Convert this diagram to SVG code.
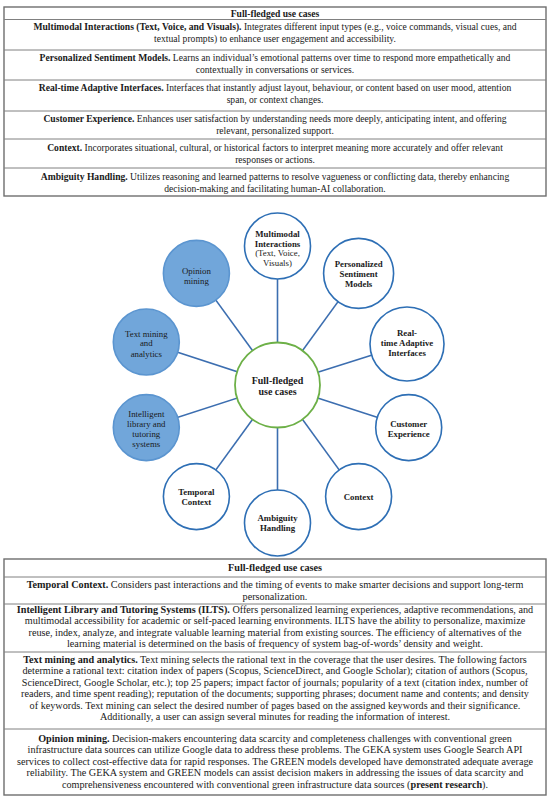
<svg xmlns="http://www.w3.org/2000/svg" width="550" height="799" viewBox="0 0 550 799">
<style>
.t{font-family:"Liberation Serif",serif;font-size:9.6px;fill:#1a1a1a;text-anchor:middle}
.t2{font-family:"Liberation Serif",serif;font-size:10.2px;fill:#1a1a1a;text-anchor:middle}
.b{font-weight:bold}
.cell{fill:none;stroke:#808080;stroke-width:1}
.frame{fill:none;stroke:#6e6e6e;stroke-width:1.4}
.node{fill:#ffffff;stroke:#2e6fb5;stroke-width:1.6}
.filled{fill:#71a6da;stroke:#5b95d0;stroke-width:1.6}
.hub{fill:#ffffff;stroke:#6db047;stroke-width:1.8}
.conn{stroke:#3c6eb0;stroke-width:1.6}
.nl{font-family:"Liberation Serif",serif;font-size:8.8px;fill:#1a1a1a;text-anchor:middle}
.hl{font-family:"Liberation Serif",serif;font-size:10px;font-weight:bold;fill:#1a1a1a;text-anchor:middle}
</style>
<rect width="550" height="799" fill="#ffffff"/>

<g id="table-top">
<rect class="frame" x="4" y="7" width="542" height="189"/>
<line class="cell" x1="4" y1="19.5" x2="546" y2="19.5"/>
<line class="cell" x1="4" y1="50" x2="546" y2="50"/>
<line class="cell" x1="4" y1="80" x2="546" y2="80"/>
<line class="cell" x1="4" y1="111" x2="546" y2="111"/>
<line class="cell" x1="4" y1="139" x2="546" y2="139"/>
<line class="cell" x1="4" y1="168" x2="546" y2="168"/>
<text class="t b" x="275" y="16.5">Full-fledged use cases</text>
<text class="t" x="275" y="30"><tspan class="b">Multimodal Interactions (Text, Voice, and Visuals).</tspan> Integrates different input types (e.g., voice commands, visual cues, and</text>
<text class="t" x="275" y="42">textual prompts) to enhance user engagement and accessibility.</text>
<text class="t" x="275" y="61"><tspan class="b">Personalized Sentiment Models.</tspan> Learns an individual’s emotional patterns over time to respond more empathetically and</text>
<text class="t" x="275" y="73">contextually in conversations or services.</text>
<text class="t" x="275" y="91"><tspan class="b">Real-time Adaptive Interfaces.</tspan> Interfaces that instantly adjust layout, behaviour, or content based on user mood, attention</text>
<text class="t" x="275" y="103">span, or context changes.</text>
<text class="t" x="275" y="121.5"><tspan class="b">Customer Experience.</tspan> Enhances user satisfaction by understanding needs more deeply, anticipating intent, and offering</text>
<text class="t" x="275" y="133.5">relevant, personalized support.</text>
<text class="t" x="275" y="150.5"><tspan class="b">Context.</tspan> Incorporates situational, cultural, or historical factors to interpret meaning more accurately and offer relevant</text>
<text class="t" x="275" y="162.5">responses or actions.</text>
<text class="t" x="275" y="180"><tspan class="b">Ambiguity Handling.</tspan> Utilizes reasoning and learned patterns to resolve vagueness or conflicting data, thereby enhancing</text>
<text class="t" x="275" y="192">decision-making and facilitating human-AI collaboration.</text>
</g>

<g id="connectors">
<line class="conn" x1="277.5" y1="385" x2="277.5" y2="246"/>
<line class="conn" x1="277.5" y1="385" x2="358.6" y2="273.4"/>
<line class="conn" x1="277.5" y1="385" x2="407" y2="344"/>
<line class="conn" x1="277.5" y1="385" x2="408.7" y2="427.6"/>
<line class="conn" x1="277.5" y1="385" x2="358.6" y2="496.6"/>
<line class="conn" x1="277.5" y1="385" x2="277.5" y2="523"/>
<line class="conn" x1="277.5" y1="385" x2="196.4" y2="496.6"/>
<line class="conn" x1="277.5" y1="385" x2="146.3" y2="427.6"/>
<line class="conn" x1="277.5" y1="385" x2="146.3" y2="342"/>
<line class="conn" x1="277.5" y1="385" x2="196.4" y2="273.4"/>
</g>

<g id="node-hub">
<circle class="hub" cx="277.5" cy="385" r="42.5"/>
<text class="hl" x="277.5" y="383.5">Full-fledged</text>
<text class="hl" x="277.5" y="394.5">use cases</text>
</g>
<g id="node-multimodal">
<circle class="node" cx="277.5" cy="246" r="33"/>
<text class="nl b" x="277.5" y="236.5">Multimodal</text>
<text class="nl b" x="277.5" y="246.5">Interactions</text>
<text class="nl" x="277.5" y="256">(Text, Voice,</text>
<text class="nl" x="277.5" y="265.5">Visuals)</text>
</g>
<g id="node-sentiment">
<circle class="node" cx="358.6" cy="273.4" r="35"/>
<text class="nl b" x="358.6" y="267">Personalized</text>
<text class="nl b" x="358.6" y="277">Sentiment</text>
<text class="nl b" x="358.6" y="287">Models</text>
</g>
<g id="node-adaptive">
<circle class="node" cx="407" cy="344" r="37"/>
<text class="nl b" x="407" y="336">Real-</text>
<text class="nl b" x="407" y="346">time Adaptive</text>
<text class="nl b" x="407" y="356">Interfaces</text>
</g>
<g id="node-customer">
<circle class="node" cx="408.7" cy="427.6" r="33"/>
<text class="nl b" x="408.7" y="426.5">Customer</text>
<text class="nl b" x="408.7" y="436.5">Experience</text>
</g>
<g id="node-context">
<circle class="node" cx="358.6" cy="496.6" r="33"/>
<text class="nl b" x="358.6" y="500">Context</text>
</g>
<g id="node-ambiguity">
<circle class="node" cx="277.5" cy="523" r="33"/>
<text class="nl b" x="277.5" y="521">Ambiguity</text>
<text class="nl b" x="277.5" y="530.5">Handling</text>
</g>
<g id="node-temporal">
<circle class="node" cx="196.4" cy="496.6" r="33"/>
<text class="nl b" x="196.4" y="495">Temporal</text>
<text class="nl b" x="196.4" y="505">Context</text>
</g>
<g id="node-ilts">
<circle class="filled" cx="146.3" cy="427.6" r="33"/>
<text class="nl" x="146.3" y="416.5">Intelligent</text>
<text class="nl" x="146.3" y="426.5">library and</text>
<text class="nl" x="146.3" y="436.5">tutoring</text>
<text class="nl" x="146.3" y="446.5">systems</text>
</g>
<g id="node-textmining">
<circle class="filled" cx="146.3" cy="342" r="33"/>
<text class="nl" x="146.3" y="336.5">Text mining</text>
<text class="nl" x="146.3" y="346">and</text>
<text class="nl" x="146.3" y="356.5">analytics</text>
</g>
<g id="node-opinion">
<circle class="filled" cx="196.4" cy="273.4" r="33"/>
<text class="nl" x="196.4" y="273.5">Opinion</text>
<text class="nl" x="196.4" y="283.5">mining</text>
</g>

<g id="table-bottom">
<rect class="frame" x="4" y="559" width="542" height="236"/>
<line class="cell" x1="4" y1="577" x2="546" y2="577"/>
<line class="cell" x1="4" y1="604" x2="546" y2="604"/>
<line class="cell" x1="4" y1="652" x2="546" y2="652"/>
<line class="cell" x1="4" y1="729" x2="546" y2="729"/>
<text class="t2 b" x="275" y="571">Full-fledged use cases</text>
<text class="t2" x="275" y="588"><tspan class="b">Temporal Context.</tspan> Considers past interactions and the timing of events to make smarter decisions and support long-term</text>
<text class="t2" x="275" y="599.5">personalization.</text>
<text class="t2" x="275" y="612.5"><tspan class="b">Intelligent Library and Tutoring Systems (ILTS).</tspan> Offers personalized learning experiences, adaptive recommendations, and</text>
<text class="t2" x="275" y="624">multimodal accessibility for academic or self-paced learning environments. ILTS have the ability to personalize, maximize</text>
<text class="t2" x="275" y="635.5">reuse, index, analyze, and integrate valuable learning material from existing sources. The efficiency of alternatives of the</text>
<text class="t2" x="275" y="647">learning material is determined on the basis of frequency of system bag-of-words’ density and weight.</text>
<text class="t2" x="275" y="662.5"><tspan class="b">Text mining and analytics.</tspan> Text mining selects the rational text in the coverage that the user desires. The following factors</text>
<text class="t2" x="275" y="674">determine a rational text: citation index of papers (Scopus, ScienceDirect, and Google Scholar); citation of authors (Scopus,</text>
<text class="t2" x="275" y="685.5">ScienceDirect, Google Scholar, etc.); top 25 papers; impact factor of journals; popularity of a text (citation index, number of</text>
<text class="t2" x="275" y="697">readers, and time spent reading); reputation of the documents; supporting phrases; document name and contents; and density</text>
<text class="t2" x="275" y="708.5">of keywords. Text mining can select the desired number of pages based on the assigned keywords and their significance.</text>
<text class="t2" x="275" y="720">Additionally, a user can assign several minutes for reading the information of interest.</text>
<text class="t2" x="275" y="741.5"><tspan class="b">Opinion mining.</tspan>  Decision-makers encountering data scarcity and completeness challenges with conventional green</text>
<text class="t2" x="275" y="753">infrastructure data sources can utilize Google data to address these problems. The GEKA system uses Google Search API</text>
<text class="t2" x="275" y="764.5">services to collect cost-effective data for rapid responses. The GREEN models developed have demonstrated adequate average</text>
<text class="t2" x="275" y="776">reliability. The GEKA system and GREEN models can assist decision makers in addressing the issues of data scarcity and</text>
<text class="t2" x="275" y="787.5">comprehensiveness encountered with conventional green infrastructure data sources (<tspan class="b">present research</tspan>).</text>
</g>
</svg>
